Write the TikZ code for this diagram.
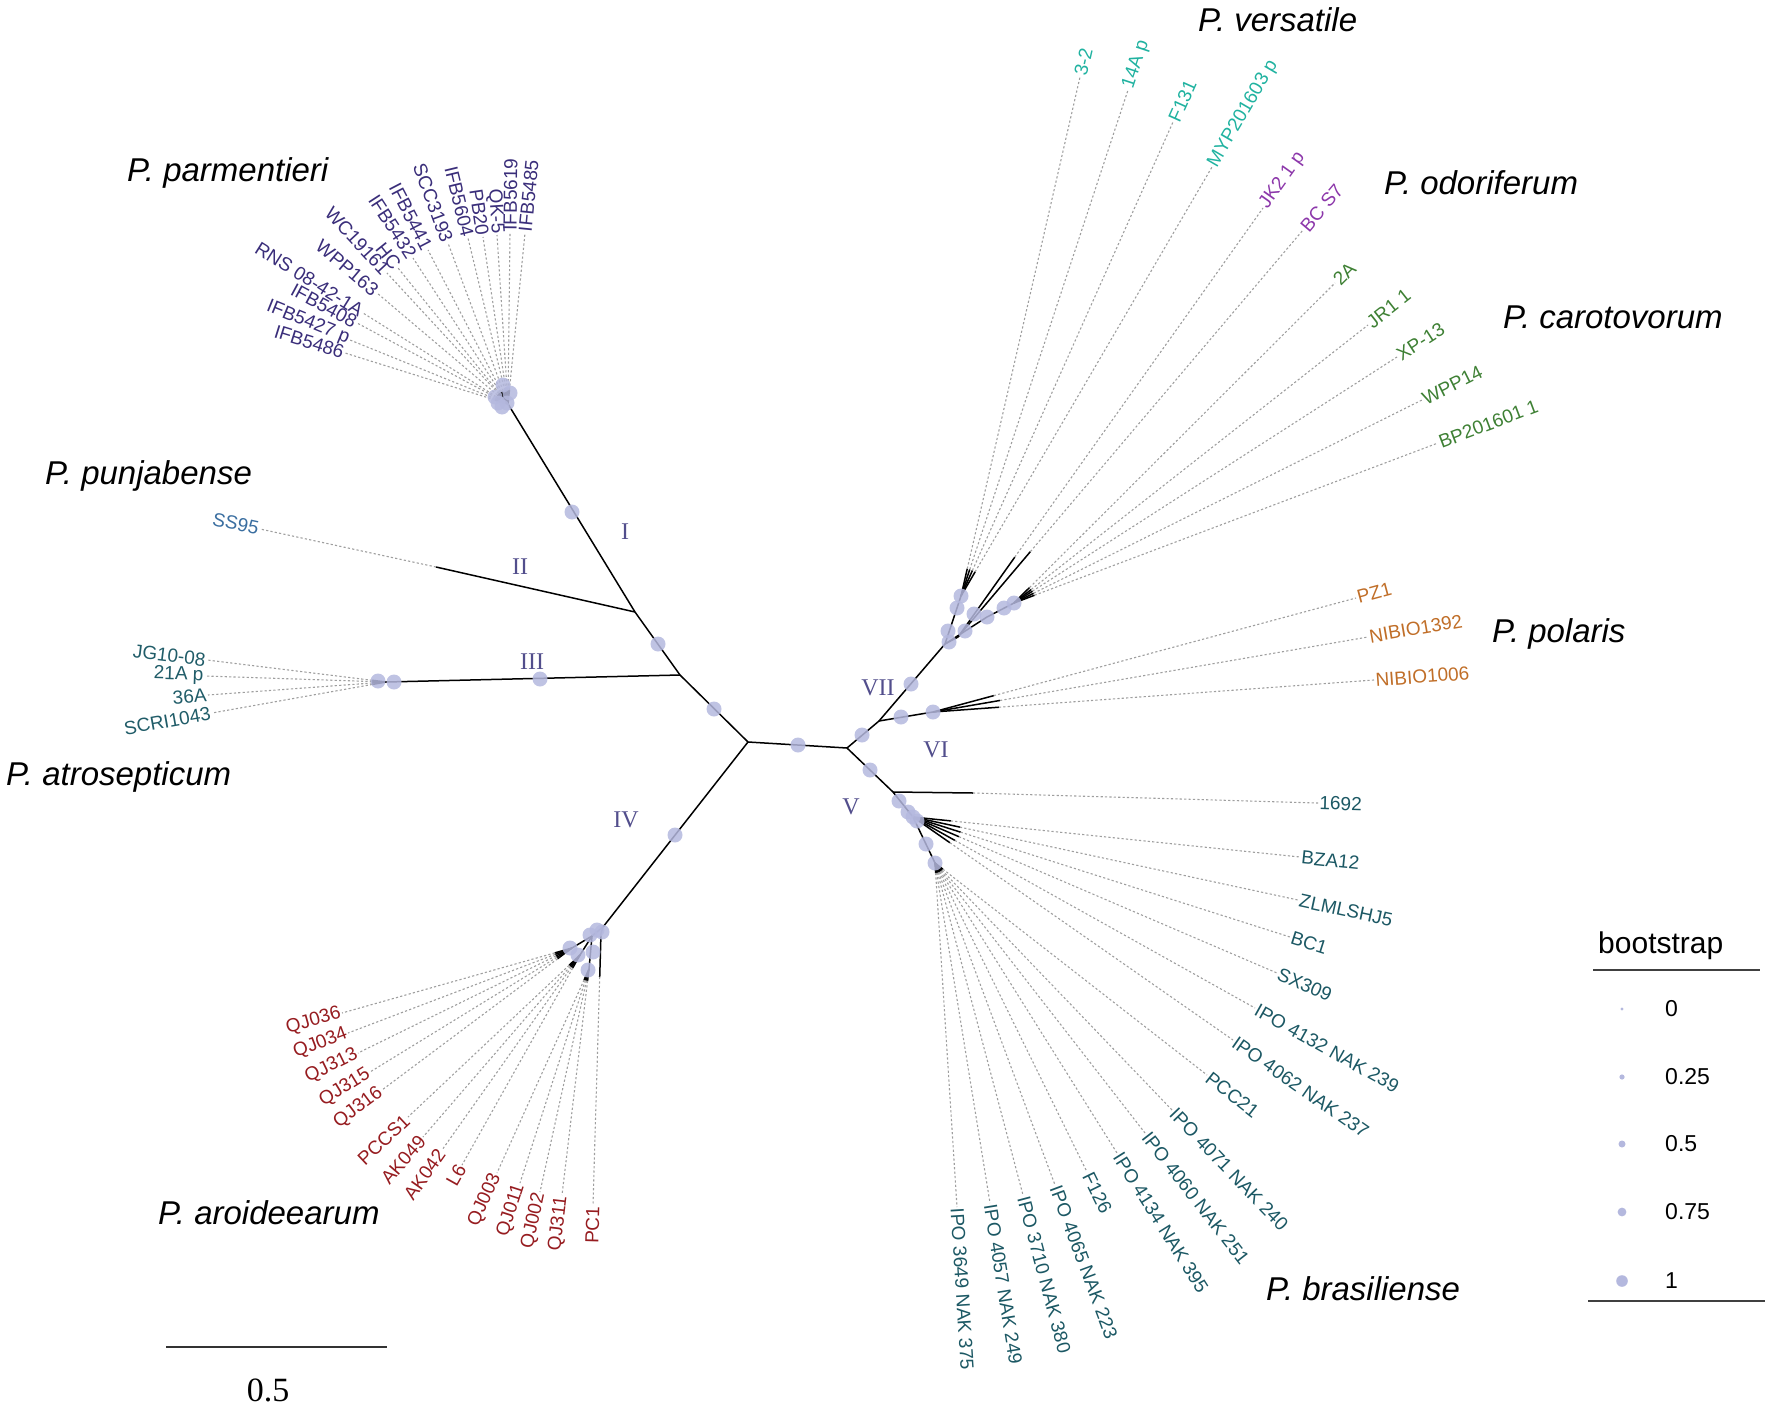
\documentclass[tikz,border=0pt]{standalone}
\usepackage{fontspec}
\setmainfont{Liberation Sans}
\newfontfamily\serifnum{Liberation Serif}
\usetikzlibrary{calc}

\definecolor{parcol}{RGB}{58,46,122}
\definecolor{vercol}{RGB}{32,178,160}
\definecolor{odocol}{RGB}{140,55,170}
\definecolor{carcol}{RGB}{62,128,52}
\definecolor{polcol}{RGB}{192,110,40}
\definecolor{bracol}{RGB}{28,88,100}
\definecolor{arocol}{RGB}{150,28,32}
\definecolor{atrcol}{RGB}{32,92,104}
\definecolor{puncol}{RGB}{58,110,160}
\definecolor{cladecol}{RGB}{82,78,140}
\definecolor{bootcol}{RGB}{180,184,222}

\tikzset{
  branch/.style={line width=1.5pt, black},
  tipline/.style={gray!75, line width=1.1pt, dash pattern=on 2.2pt off 2.2pt},
  leaflab/.style={font=\fontsize{19}{19}\selectfont, inner sep=1pt},
  boot/.style={circle, fill=bootcol, fill opacity=.85, inner sep=0pt, minimum size=15pt},
  species/.style={font=\itshape\fontsize{33}{33}\selectfont, inner sep=0pt, anchor=west},
  clade/.style={font=\serifnum\fontsize{24}{24}\selectfont, text=cladecol},
  legtext/.style={font=\fontsize{23}{23}\selectfont, anchor=west, inner sep=0pt},
}

% leaf: name, from node, solid length, label end, colour, text
\newdimen\leafdx
\newcommand{\leaf}[6]{%
  \coordinate (#1) at (#4);
  \pgfextractx{\leafdx}{\pgfpointdiff{\pgfpointanchor{#2}{center}}{\pgfpointanchor{#1}{center}}}%
  \ifdim\leafdx<0pt\def\leafanchor{east}\else\def\leafanchor{west}\fi
  \draw[branch] (#2) -- ($(#2)!#3!(#1)$) coordinate (#1-t);
  \draw[tipline] (#1-t) -- (#1) node[leaflab, sloped, pos=1, anchor=\leafanchor, text=#5] (#1-n) {#6};
}

\begin{document}
\begin{tikzpicture}[x=1pt,y=-1pt]
\useasboundingbox (0,0) rectangle (1772,1410);

% backbone
\coordinate (rootL) at (748,742);
\coordinate (rootR) at (847,748);
\coordinate (nIII) at (680,675);
\coordinate (nII) at (635,612);
\coordinate (parC) at (508,404);
\coordinate (endII) at (436,567);
\coordinate (atrC) at (386,682);
\coordinate (aroC) at (603,927);
\coordinate (nVI) at (879,721);
\coordinate (polC) at (933,712);
\coordinate (nVII) at (945,644);
\coordinate (nV) at (893,792);
\coordinate (end1692) at (973,793);
\coordinate (brasC) at (913,817);
\coordinate (brasD) at (935,863);

\draw[branch] (rootR) -- (rootL) -- (nIII) -- (nII) -- (parC);
\draw[branch] (nII) -- (endII);
\draw[branch] (nIII) -- (atrC);
\draw[branch] (rootL) -- (aroC);
\draw[branch] (rootR) -- (nVI) -- (nVII);
\draw[branch] (nVI) -- (polC);
\draw[branch] (rootR) -- (nV) -- (brasC) -- (brasD);
\draw[branch] (nV) -- (end1692);

% clade VII
\coordinate (verA) at (957,608);
\coordinate (verB) at (961,596);
\coordinate (odoA) at (958,637);
\coordinate (carA) at (987,617);
\coordinate (carB) at (1014,603);
\draw[branch] (nVII) -- (verA) -- (verB);
\draw[branch] (nVII) -- (odoA);
\draw[branch] (nVII) -- (carA) -- (carB);

% clade IV
\coordinate (aroA) at (592,936);
\coordinate (aroB) at (572,948);
\coordinate (aroE) at (580,955);
\coordinate (aroD) at (589,969);
\coordinate (aroP) at (601,933);
\draw[branch] (aroC) -- (aroA) -- (aroB);
\draw[branch] (aroA) -- (aroE);
\draw[branch] (aroA) -- (aroD);
\draw[branch] (aroC) -- (aroP);

% P. parmentieri
\leaf{par1}{parC}{14pt}{345,353}{parcol}{IFB5486}
\leaf{par2}{parC}{14pt}{350,340}{parcol}{IFB5427 p}
\leaf{par3}{parC}{14pt}{357,323}{parcol}{IFB5408}
\leaf{par4}{parC}{14pt}{363,313}{parcol}{RNS 08-42-1A}
\leaf{par5}{parC}{14pt}{377,293}{parcol}{WPP163}
\leaf{par6}{parC}{14pt}{387,273}{parcol}{WC19161}
\leaf{par7}{parC}{14pt}{398,268}{parcol}{HC}
\leaf{par8}{parC}{14pt}{413,258}{parcol}{IFB5432}
\leaf{par9}{parC}{14pt}{428,250}{parcol}{IFB5441}
\leaf{par10}{parC}{14pt}{448,243}{parcol}{SCC3193}
\leaf{par11}{parC}{14pt}{468,238}{parcol}{IFB5604}
\leaf{par12}{parC}{14pt}{483,237}{parcol}{PB20}
\leaf{par13}{parC}{14pt}{497,235}{parcol}{QK-5}
\leaf{par14}{parC}{14pt}{510,232}{parcol}{IFB5619}
\leaf{par15}{parC}{14pt}{525,233}{parcol}{IFB5485}

% P. punjabense
\leaf{pun1}{endII}{0pt}{260,529}{puncol}{SS95}

% P. atrosepticum
\leaf{atr1}{atrC}{14pt}{207,660}{atrcol}{JG10-08}
\leaf{atr2}{atrC}{14pt}{205,676}{atrcol}{21A p}
\leaf{atr3}{atrC}{14pt}{208,695}{atrcol}{36A}
\leaf{atr4}{atrC}{14pt}{212,713}{atrcol}{SCRI1043}

% P. aroideearum
\leaf{aro1}{aroB}{18pt}{342,1013}{arocol}{QJ036}
\leaf{aro2}{aroB}{18pt}{348,1033}{arocol}{QJ034}
\leaf{aro3}{aroB}{18pt}{358,1053}{arocol}{QJ313}
\leaf{aro4}{aroB}{18pt}{370,1072}{arocol}{QJ315}
\leaf{aro5}{aroB}{18pt}{382,1090}{arocol}{QJ316}
\leaf{aro6}{aroE}{15pt}{408,1117}{arocol}{PCCS1}
\leaf{aro7}{aroE}{15pt}{423,1137}{arocol}{AK049}
\leaf{aro8}{aroE}{15pt}{442,1150}{arocol}{AK042}
\leaf{aro9}{aroE}{15pt}{462,1165}{arocol}{L6}
\leaf{aro10}{aroD}{12pt}{497,1173}{arocol}{QJ003}
\leaf{aro11}{aroD}{12pt}{520,1183}{arocol}{QJ011}
\leaf{aro12}{aroD}{12pt}{540,1192}{arocol}{QJ002}
\leaf{aro13}{aroD}{12pt}{562,1195}{arocol}{QJ311}
\leaf{aro14}{aroP}{44pt}{593,1205}{arocol}{PC1}

% P. brasiliense
\leaf{bra1}{end1692}{0pt}{1318,803}{bracol}{1692}
\leaf{bra2}{brasC}{38pt}{1300,857}{bracol}{BZA12}
\leaf{bra3}{brasC}{48pt}{1298,900}{bracol}{ZLMLSHJ5}
\leaf{bra4}{brasC}{50pt}{1290,937}{bracol}{BC1}
\leaf{bra5}{brasC}{50pt}{1277,973}{bracol}{SX309}
\leaf{bra6}{brasC}{48pt}{1255,1008}{bracol}{IPO 4132 NAK 239}
\leaf{bra7}{brasC}{45pt}{1233,1040}{bracol}{IPO 4062 NAK 237}
\leaf{bra8}{brasD}{10pt}{1207,1075}{bracol}{PCC21}
\leaf{bra9}{brasD}{10pt}{1172,1110}{bracol}{IPO 4071 NAK 240}
\leaf{bra10}{brasD}{10pt}{1145,1133}{bracol}{IPO 4060 NAK 251}
\leaf{bra11}{brasD}{10pt}{1117,1153}{bracol}{IPO 4134 NAK 395}
\leaf{bra12}{brasD}{10pt}{1087,1172}{bracol}{F126}
\leaf{bra13}{brasD}{10pt}{1055,1185}{bracol}{IPO 4065 NAK 223}
\leaf{bra14}{brasD}{10pt}{1023,1195}{bracol}{IPO 3710 NAK 380}
\leaf{bra15}{brasD}{10pt}{990,1203}{bracol}{IPO 4057 NAK 249}
\leaf{bra16}{brasD}{10pt}{957,1207}{bracol}{IPO 3649 NAK 375}

% P. polaris
\leaf{pol1}{polC}{63pt}{1356,598}{polcol}{PZ1}
\leaf{pol2}{polC}{68pt}{1368,637}{polcol}{NIBIO1392}
\leaf{pol3}{polC}{66pt}{1374,680}{polcol}{NIBIO1006}

% P. carotovorum
\leaf{car1}{carB}{22pt}{1335,283}{carcol}{2A}
\leaf{car2}{carB}{22pt}{1368,325}{carcol}{JR1 1}
\leaf{car3}{carB}{22pt}{1397,357}{carcol}{XP-13}
\leaf{car4}{carB}{22pt}{1422,400}{carcol}{WPP14}
\leaf{car5}{carB}{22pt}{1438,443}{carcol}{BP201601 1}

% P. odoriferum
\leaf{odo1}{odoA}{98pt}{1263,208}{odocol}{JK2 1 p}
\leaf{odo2}{odoA}{112pt}{1303,230}{odocol}{BC S7}

% P. versatile
\leaf{ver1}{verB}{28pt}{1080,77}{vercol}{3-2}
\leaf{ver2}{verB}{28pt}{1128,90}{vercol}{14A p}
\leaf{ver3}{verB}{28pt}{1173,122}{vercol}{F131}
\leaf{ver4}{verB}{28pt}{1212,167}{vercol}{MYP201603 p}

% bootstrap circles
\foreach \p [count=\i] in {{798,745},{714,709},{658,644},{572,512},{540,679},{675,835},
  {862,735},{870,770},{911,684},{901,717},{933,712},{899,801},
  {378,681},{394,682},
  {495,397},{503,385},{507,403},{498,403},{510,393},{502,407},
  {949,642},{948,631},{957,608},{961,596},{965,631},{974,614},{987,617},{1004,608},{1014,603},
  {908,812},{913,817},{917,821},{926,844},{935,863},
  {570,948},{590,935},{597,930},{602,932},{578,955},{593,952},{588,970}}
  \node[boot] (bs\i) at (\p) {};

% clade numbers
\node[clade] (cI) at (625,532) {I};
\node[clade] (cII) at (520,567) {II};
\node[clade] (cIII) at (532,662) {III};
\node[clade] (cIV) at (626,820) {IV};
\node[clade] (cV) at (851,807) {V};
\node[clade] (cVI) at (936,750) {VI};
\node[clade] (cVII) at (878,688) {VII};

% species
\node[species] (spPar) at (127,173) {P. parmentieri};
\node[species] (spPun) at (45,476) {P. punjabense};
\node[species] (spAtr) at (6,777) {P. atrosepticum};
\node[species] (spAro) at (158,1213) {P. aroideearum};
\node[species] (spBra) at (1266,1289) {P. brasiliense};
\node[species] (spPol) at (1492,634) {P. polaris};
\node[species] (spCar) at (1503,317) {P. carotovorum};
\node[species] (spOdo) at (1384,183) {P. odoriferum};
\node[species] (spVer) at (1198,20) {P. versatile};

% legend
\node[legtext, font=\fontsize{30}{30}\selectfont] (lgTitle) at (1598,946) {bootstrap};
\coordinate (lgA) at (1593,970);
\coordinate (lgB) at (1760,970);
\coordinate (lgC) at (1588,1301);
\coordinate (lgD) at (1765,1301);
\draw[line width=1.3pt, black!75] (lgA) -- (lgB);
\draw[line width=1.3pt, black!75] (lgC) -- (lgD);
\foreach \v/\y/\r [count=\i] in {0/1009/1.6,0.25/1077/2.6,0.5/1144/3.5,0.75/1212/4.4,1/1281/5.8}{
  \fill[bootcol] (1622,\y) circle (\r);
  \node[legtext] (lg\i) at (1665,\y) {\v};
}

% scale bar
\coordinate (sbA) at (166,1347);
\coordinate (sbB) at (387,1347);
\draw[line width=1.5pt, black!80] (sbA) -- (sbB);
\node[font=\serifnum\fontsize{34}{34}\selectfont] (sbT) at (268,1390) {0.5};

\end{tikzpicture}
\end{document}
